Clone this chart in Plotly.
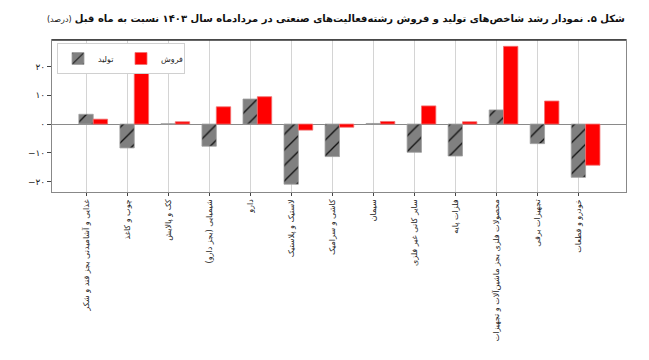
import plotly.graph_objects as go

categories = [
    "غذایی و آشامیدنی بجز قند و شکر",
    "چوب و کاغذ",
    "کک و پالایش",
    "شیمیایی (بجز دارو)",
    "دارو",
    "لاستیک و پلاستیک",
    "کاشی و سرامیک",
    "سیمان",
    "سایر کانی غیر فلزی",
    "فلزات پایه",
    "محصولات فلزی بجز ماشین‌آلات و تجهیزات",
    "تجهیزات برقی",
    "خودرو و قطعات",
]
production = [3.4, -8.3, 0.1, -7.7, 8.7, -20.9, -11.3, 0.2, -9.8, -11.1, 4.9, -6.8, -18.5]
sales = [1.7, 17.9, 0.8, 6.0, 9.5, -2.1, -1.1, 0.9, 6.3, 0.8, 27.0, 8.0, -14.3]
ytick_vals = [-20, -10, 0, 10, 20]
ytick_text = ["−۲۰", "−۱۰", "۰", "۱۰", "۲۰"]
title_main = "شکل ۵. نمودار رشد شاخص‌های تولید و فروش رشته‌فعالیت‌های صنعتی در مردادماه سال ۱۴۰۳ نسبت به ماه قبل"
title_unit = "(درصد)"
name_prod = "تولید"
name_sales = "فروش"

W, H = 649, 360
# page body has an 8px margin; figure coordinates are screenshot - 8
L, R, T, B = 44, 31, 32, 176
PW, PH = W - L - R, H - T - B
FONT = "DejaVu Sans"

fig = go.Figure()
fig.add_trace(go.Bar(
    x=categories, y=production, name=name_prod,
    width=0.35, offset=-0.175,
    marker=dict(color="#808080",
                line=dict(color="#a0a0a0", width=0.8),
                pattern=dict(shape="/", fgcolor="#111111", bgcolor="#808080",
                             size=11, solidity=0.12, fillmode="replace")),
))
fig.add_trace(go.Bar(
    x=categories, y=sales, name=name_sales,
    width=0.35, offset=0.175,
    marker=dict(color="#ff0000", line=dict(color="#f07070", width=0.8)),
))

fig.update_layout(
    width=W, height=H,
    margin=dict(l=L, r=R, t=T, b=B, pad=0, autoexpand=False),
    paper_bgcolor="white", plot_bgcolor="white",
    barmode="overlay",
    font=dict(family=FONT, size=9, color="#222"),
    showlegend=True,
    legend=dict(orientation="h", x=5 / PW, y=1 - 3 / PH, xanchor="left", yanchor="top",
                bgcolor="white", bordercolor="#d0d0d0", borderwidth=1,
                font=dict(size=8, family=FONT), entrywidth=18,
                itemwidth=30, traceorder="normal", tracegroupgap=0),
)
fig.update_xaxes(
    range=[-0.83, 13.16], type="category", automargin=False,
    showgrid=True, gridcolor="#d4d4d4", gridwidth=1,
    showline=True, linecolor="#888888", linewidth=1.2, mirror=True,
    ticks="outside", ticklen=3, tickcolor="#444",
    tickangle=-90, tickfont=dict(size=8, family=FONT, color="#222"),
)
fig.update_yaxes(
    range=[-23.6, 29.2], automargin=False,
    tickvals=ytick_vals, ticktext=ytick_text,
    showgrid=False, zeroline=True, zerolinecolor="#8a8a8a", zerolinewidth=1,
    showline=True, linecolor="#888888", linewidth=1.2, mirror=True,
    ticks="outside", ticklen=4, tickcolor="#444",
    tickfont=dict(size=9, family=FONT, color="#222"),
)
# darker top border / title underline
fig.add_shape(type="line", xref="paper", yref="paper", x0=0, x1=1, y0=1, y1=1,
              line=dict(color="#333333", width=1.3))
fig.add_annotation(
    xref="paper", yref="paper",
    x=(619 - L) / PW, y=1 + (T - 11) / PH,
    xanchor="right", yanchor="middle", showarrow=False,
    text="<b>" + title_main + "</b> <span style='font-size:8px'>" + title_unit + "</span>",
    font=dict(family=FONT, size=10, color="#111"),
)

fig.write_html("out.html")
